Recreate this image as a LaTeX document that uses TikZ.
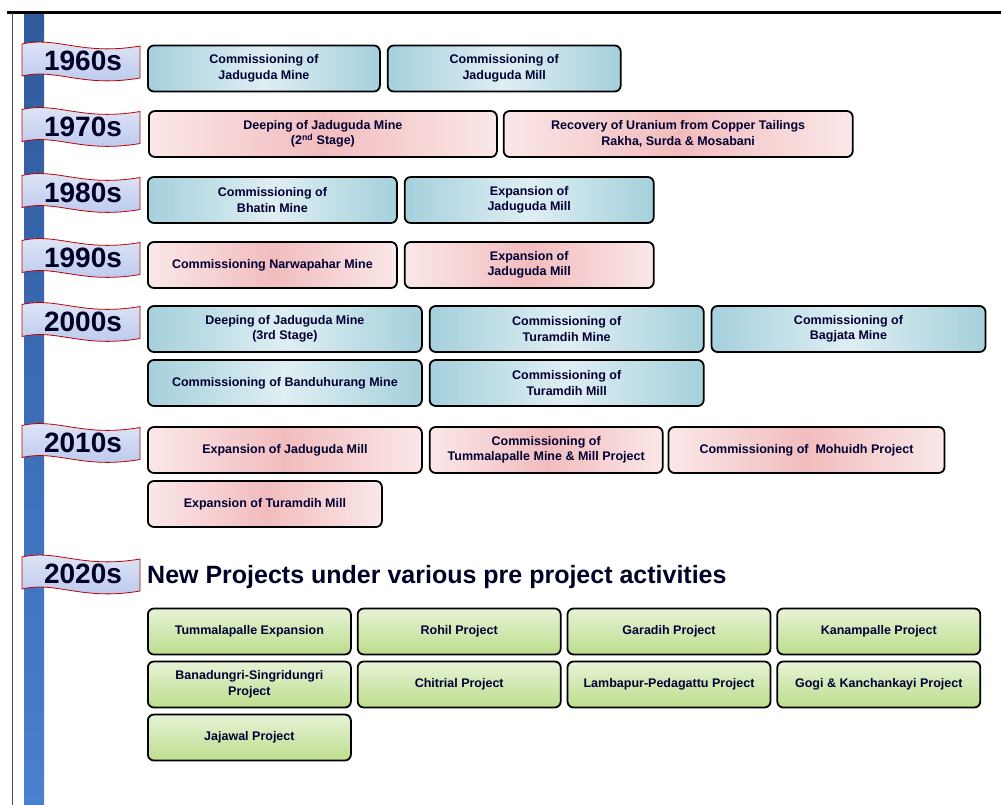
\documentclass[tikz,border=0pt]{standalone}
\usepackage{fontspec}
\setmainfont{Liberation Sans}
\usetikzlibrary{positioning,shadings}

\definecolor{mineblue}{HTML}{A4D0DC}
\definecolor{minepink}{HTML}{F2BCBE}
\definecolor{minegreen}{HTML}{BCDD8C}
\definecolor{flagblue}{HTML}{B8C6EC}
\definecolor{bartop}{HTML}{2F5A9C}
\definecolor{barbottom}{HTML}{4A80D0}

\newcommand{\decadeflag}[3]{%
  \begin{scope}[shift={(#2)}]
    \path[flag] (0,0) .. controls (35,-8) and (60,12) .. (118,2) -- (118,34)
      .. controls (60,44) and (35,24) .. (0,32) -- cycle;
    \node[year] (#1) at (61,17) {#3};
  \end{scope}}

\begin{document}
\begin{tikzpicture}[x=1pt,y=-1pt,font=\bfseries\fontsize{12.5}{15.5}\selectfont]
\tikzstyle{event}=[draw=black,line width=1.8pt,rounded corners=6pt,minimum height=46pt,align=center,inner sep=2pt,text=black!80!blue]
\tikzstyle{blue event}=[event,left color=mineblue,right color=mineblue,middle color=mineblue!35]
\tikzstyle{pink event}=[event,left color=minepink!35,right color=minepink!35,middle color=minepink]
\tikzstyle{green event}=[event,top color=minegreen!35,bottom color=minegreen,minimum width=203pt]
\tikzstyle{flag}=[draw=red!75!black,line width=0.8pt,top color=flagblue!40,bottom color=flagblue]
\tikzstyle{year}=[text=black!85!blue,font=\bfseries\fontsize{28}{28}\selectfont,inner sep=0pt]

\useasboundingbox (0,0) rectangle (1001,805);
\draw[line width=3pt] (7,13) -- (1001,13);
\draw[line width=0.8pt,black!70] (12,13) -- (12,805);
\shade[top color=bartop,bottom color=barbottom] (24,15) rectangle (44,805);

\decadeflag{F1}{22,44}{1960s}
\decadeflag{F2}{22,109.5}{1970s}
\decadeflag{F3}{22,175.5}{1980s}
\decadeflag{F4}{22,240.5}{1990s}
\decadeflag{F5}{22,304.5}{2000s}
\decadeflag{F6}{22,425.5}{2010s}
\decadeflag{F7}{22,557}{2020s}

\node[blue event]  (A) [anchor=west,minimum width=232pt] at (147,68.5) {Commissioning of\\Jaduguda Mine};
\node[blue event]  (B) [right=6pt of A,minimum width=233pt] {Commissioning of\\Jaduguda Mill};
\node[pink event]  (C) [anchor=west,minimum width=348pt] at (148,134) {Deeping of Jaduguda Mine\\(2\textsuperscript{nd} Stage)};
\node[pink event]  (D) [right=5pt of C,minimum width=349pt] {Recovery of Uranium from Copper Tailings\\Rakha, Surda \& Mosabani};
\node[blue event]  (E) [anchor=west,minimum width=249pt] at (147,200) {Commissioning of\\Bhatin Mine};
\node[blue event]  (F) [right=6pt of E,minimum width=249pt] {Expansion of\\Jaduguda Mill};
\node[pink event]  (G) [anchor=west,minimum width=249pt] at (147,265) {Commissioning Narwapahar Mine};
\node[pink event]  (H) [right=6pt of G,minimum width=249pt] {Expansion of\\Jaduguda Mill};
\node[blue event]  (I) [anchor=west,minimum width=274pt] at (147,329) {Deeping of Jaduguda Mine\\(3rd Stage)};
\node[blue event]  (J) [right=6pt of I,minimum width=274pt] {Commissioning of\\Turamdih Mine};
\node[blue event]  (K) [right=6pt of J,minimum width=274pt] {Commissioning of\\Bagjata Mine};
\node[blue event]  (L) [anchor=west,minimum width=274pt] at (147,383) {Commissioning of Banduhurang Mine};
\node[blue event]  (M) [right=6pt of L,minimum width=274pt] {Commissioning of\\Turamdih Mill};
\node[pink event]  (N) [anchor=west,minimum width=274pt] at (147,450) {Expansion of Jaduguda Mill};
\node[pink event]  (O) [right=6pt of N,minimum width=233pt] {Commissioning of\\Tummalapalle Mine \& Mill Project};
\node[pink event]  (P) [right=4pt of O,minimum width=276pt] {Commissioning of\ \ Mohuidh Project};
\node[pink event]  (Q) [anchor=west,minimum width=234pt] at (147,504) {Expansion of Turamdih Mill};

\node (T0) [anchor=west,inner sep=0pt,text=black!85!blue,font=\bfseries\fontsize{25}{25}\selectfont] at (147,577) {New Projects under various pre project activities};

\node[green event] (R) [anchor=west] at (147,631.5) {Tummalapalle Expansion};
\node[green event] (S) [right=5pt of R] {Rohil Project};
\node[green event] (T) [right=5pt of S] {Garadih Project};
\node[green event] (U) [right=5pt of T] {Kanampalle Project};
\node[green event] (V) [anchor=west] at (147,684.5) {Banadungri-Singridungri\\Project};
\node[green event] (W) [right=5pt of V] {Chitrial Project};
\node[green event] (X) [right=5pt of W] {Lambapur-Pedagattu Project};
\node[green event] (Y) [right=5pt of X] {Gogi \& Kanchankayi Project};
\node[green event] (Z) [anchor=west] at (147,737.5) {Jajawal Project};
\end{tikzpicture}
\end{document}
